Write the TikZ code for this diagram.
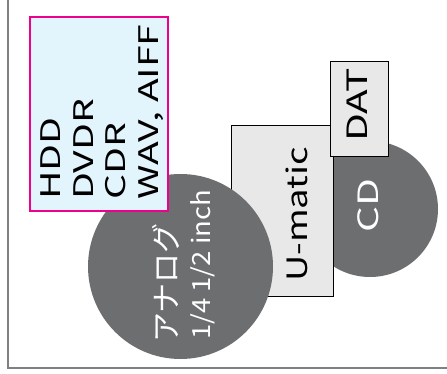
\documentclass[tikz,border=0pt]{standalone}
\usepackage{fontspec}
\setmainfont{Noto Sans CJK JP}
\newfontfamily\widefont[FakeStretch=1.45]{Noto Sans CJK JP}
\newfontfamily\mediafont[FakeStretch=1.3]{Noto Sans CJK JP}
\newfontfamily\inchfont[FakeStretch=1.1]{Noto Sans CJK JP}

\definecolor{framegray}{HTML}{808080}
\definecolor{discgray}{HTML}{6D6E70}
\definecolor{tapegray}{HTML}{E8E8E8}
\definecolor{boxpink}{HTML}{EC008C}
\definecolor{boxblue}{HTML}{E2F4FC}

\tikzset{
  disc/.style={circle, fill=discgray, inner sep=0},
  tape/.style={rectangle, draw=black, line width=1.8pt, fill=tapegray, inner sep=0},
  vtext/.style={rotate=90, anchor=base west, inner sep=0},
}

\begin{document}
\begin{tikzpicture}[x=1pt, y=-1pt]
  \useasboundingbox (0,0) rectangle (447,374);
  % frame
  \draw[framegray, line width=1.5pt] (8,0) -- (8,368) -- (447,368);
  % media
  \node[disc, minimum size=136] (cd) at (370,209){};
  \node[tape, minimum width=102, minimum height=171] (umatic) at (282.5,211){};
  \node[tape, minimum width=58, minimum height=95] (dat) at (359.5,109){};
  \node[disc, minimum size=185] (analog) at (180.5,266.5){};
  \node[rectangle, draw=boxpink, line width=2.2pt, fill=boxblue,
        minimum width=138, minimum height=194] (digital) at (99,114){};
  % texts
  \node[vtext] (hdd) at(60,200){\widefont\fontsize{27}{27}\selectfont HDD};
  \node[vtext] (dvdr) at(93,200){\widefont\fontsize{27}{27}\selectfont DVDR};
  \node[vtext] (cdr) at(125,200){\widefont\fontsize{27}{27}\selectfont CDR};
  \node[vtext] (wav) at(158,200){\widefont\fontsize{27}{27}\selectfont WAV, AIFF};
  \node[vtext] (umatictext) at(307,282){\mediafont\fontsize{28}{28}\selectfont U-matic};
  \node[vtext] (dattext) at(367,142){\widefont\fontsize{28}{28}\selectfont DAT};
  \node[vtext, white] (cdtext) at(378,233){\widefont\fontsize{28}{28}\selectfont CD};
  \node[vtext, white] (jptext) at(177,343){\fontsize{30}{30}\selectfont アナログ};
  \node[vtext, white] (sizetext) at(210,340){\inchfont\fontsize{25}{25}\selectfont 1/4 1/2 inch};
\end{tikzpicture}
\end{document}
